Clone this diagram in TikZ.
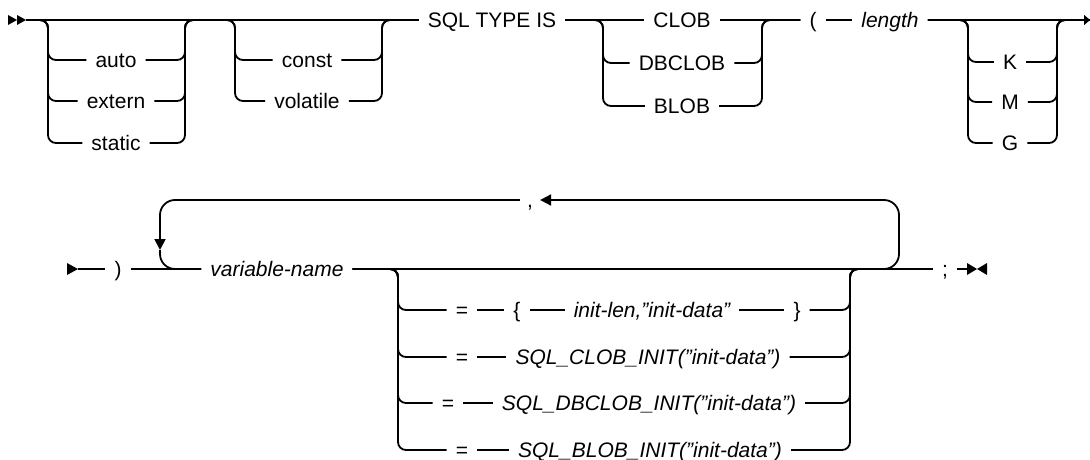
\documentclass[tikz,border=0pt]{standalone}
\usepackage{fontspec}
\setmainfont{Liberation Sans}
\usepackage{tikz}
\usetikzlibrary{arrows.meta}

\tikzset{
  rail/.style={line width=1.8pt,rounded corners=8pt},
  bigloop/.style={line width=1.8pt,rounded corners=15pt},
  kw/.style={inner xsep=9pt,inner ysep=0pt,text height=15pt,text depth=0pt,font=\fontsize{21}{25}\selectfont},
  var/.style={kw,font=\fontsize{21}{25}\selectfont\itshape}
}

\begin{document}
\begin{tikzpicture}[x=1pt,y=-1pt]

\useasboundingbox (0,0) rectangle (1090,460);
\clip (0,0) rectangle (1090,460);

% first line
\fill (8,15) -- (17,20) -- (8,25) -- cycle;
\fill (17,15) -- (26,20) -- (17,25) -- cycle;
\coordinate (beg) at (26,20);

\node (auto) [kw] at (116,60) {auto};
\node (extern) [kw] at (116,101) {extern};
\node (static) [kw] at (116,143) {static};
\coordinate (g1l) at (48,20);
\coordinate (g1r) at (185,20);

\node (const) [kw] at (307,60) {const};
\node (volatile) [kw] at (307,101) {volatile};
\coordinate (g2l) at (235,20);
\coordinate (g2r) at (382,20);

\node (sqltype) [kw] at (492,20) {SQL TYPE IS};

\node (clob) [kw] at (682,20) {CLOB};
\node (dbclob) [kw] at (682,63) {DBCLOB};
\node (blob) [kw] at (682,106) {BLOB};
\coordinate (g3l) at (603,20);
\coordinate (g3r) at (762,20);

\node (lpar) [kw] at (813,20) {(};
\node (len) [var] at (890,20) {length};

\node (kk) [kw] at (1010,62) {K};
\node (mm) [kw] at (1010,102) {M};
\node (gg) [kw] at (1010,143) {G};
\coordinate (g4l) at (968,20);
\coordinate (g4r) at (1057,20);
\coordinate (fin) at (1090,20);

\draw[rail] (beg) -- (sqltype);
\draw[rail] (beg) -| (auto -| g1l) -- (auto);
\draw[rail] (beg) -| (extern -| g1l) -- (extern);
\draw[rail] (beg) -| (static -| g1l) -- (static);
\draw[rail] (auto) -| (g1r) -- (sqltype);
\draw[rail] (extern) -| (g1r) -- (sqltype);
\draw[rail] (static) -| (g1r) -- (sqltype);

\draw[rail] (g1r) -| (const -| g2l) -- (const);
\draw[rail] (g1r) -| (volatile -| g2l) -- (volatile);
\draw[rail] (const) -| (g2r) -- (sqltype);
\draw[rail] (volatile) -| (g2r) -- (sqltype);

\draw[rail] (sqltype) -- (clob);
\draw[rail] (sqltype) -| (dbclob -| g3l) -- (dbclob);
\draw[rail] (sqltype) -| (blob -| g3l) -- (blob);
\draw[rail] (clob) -- (lpar);
\draw[rail] (dbclob) -| (g3r) -- (lpar);
\draw[rail] (blob) -| (g3r) -- (lpar);

\draw[rail] (lpar) -- (len);
\draw[rail,-{Triangle[length=6pt,width=10pt]}] (len) -- (fin);
\draw[rail] (len) -| (kk -| g4l) -- (kk);
\draw[rail] (len) -| (mm -| g4l) -- (mm);
\draw[rail] (len) -| (gg -| g4l) -- (gg);
\draw[rail] (kk) -| (g4r) -- (fin);
\draw[rail] (mm) -| (g4r) -- (fin);
\draw[rail] (gg) -| (g4r) -- (fin);

% second line
\fill (67,263) -- (78,269) -- (67,275) -- cycle;
\coordinate (beg2) at (78,269);

\node (rpar) [kw] at (118,269) {)};
\node (varname) [var] at (277,269) {variable-name};
\node (semi) [kw] at (945,269) {;};
\node (comma) [kw,inner xsep=7pt] at (530,200) {,};
\coordinate (lpr) at (870,269);
\coordinate (lpt) at (899,200);
\coordinate (lpd) at (160,250);

\node (eq1) [kw] at (462,310) {=};
\node (lbr) [kw] at (517,310) {\{};
\node (ilen) [var] at (652,310) {init-len,"init-data"};
\node (rbr) [kw] at (797,310) {\}};
\node (eq2) [kw] at (462,357) {=};
\node (cinit) [var] at (648,357) {SQL\_CLOB\_INIT("init-data")};
\node (eq3) [kw] at (448,403) {=};
\node (dinit) [var] at (649,403) {SQL\_DBCLOB\_INIT("init-data")};
\node (eq4) [kw] at (462,450) {=};
\node (binit) [var] at (650,450) {SQL\_BLOB\_INIT("init-data")};
\coordinate (g5l) at (398,269);
\coordinate (g5r) at (850,269);

\draw[rail] (beg2) -- (rpar);
\draw[rail] (rpar) -- (varname);
\draw[rail] (varname) -- (semi);

\draw[bigloop,-{Triangle[length=11pt,width=11pt]}] (lpr) -| (lpt) -- (comma);
\draw[bigloop,-{Triangle[length=11pt,width=11pt]}] (comma) -| (lpd);
\draw[bigloop] (lpd) |- (varname);

\draw[rail] (varname) -| (eq1 -| g5l) -- (eq1);
\draw[rail] (varname) -| (eq2 -| g5l) -- (eq2);
\draw[rail] (varname) -| (eq3 -| g5l) -- (eq3);
\draw[rail] (varname) -| (eq4 -| g5l) -- (eq4);
\draw[rail] (eq1) -- (lbr);
\draw[rail] (lbr) -- (ilen);
\draw[rail] (ilen) -- (rbr);
\draw[rail] (eq2) -- (cinit);
\draw[rail] (eq3) -- (dinit);
\draw[rail] (eq4) -- (binit);
\draw[rail] (rbr) -| (g5r) -- (semi);
\draw[rail] (cinit) -| (g5r) -- (semi);
\draw[rail] (dinit) -| (g5r) -- (semi);
\draw[rail] (binit) -| (g5r) -- (semi);

% end mark
\coordinate (endm) at (967,269);
\draw[rail] (semi) -- (endm);
\fill (967,263) -- (977,269) -- (967,275) -- cycle;
\fill (987,263) -- (977,269) -- (987,275) -- cycle;

\end{tikzpicture}
\end{document}
